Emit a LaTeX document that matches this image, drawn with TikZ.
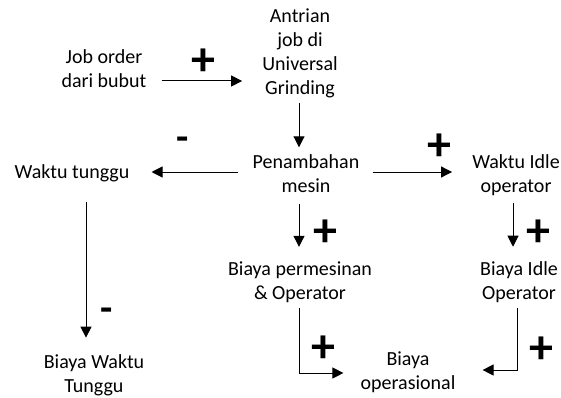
\documentclass[tikz,border=0pt]{standalone}
\usepackage{fontspec}
\setmainfont{Carlito}
\usetikzlibrary{arrows.meta}
\begin{document}
\begin{tikzpicture}[x=1pt,y=-1pt,
  lbl/.style={font=\fontsize{20}{24}\selectfont, align=center, inner sep=0pt},
  sgn/.style={font=\fontsize{48}{48}\selectfont\bfseries, inner sep=0pt},
  msgn/.style={font=\fontsize{40}{40}\selectfont\bfseries, inner sep=0pt},
  arr/.style={line width=1pt, -{Triangle[length=11pt,width=11pt]}}]
\useasboundingbox (0,0) rectangle (561,398);
% nodes
\node[lbl] (job) at (104,69) {Job order\\dari bubut};
\node[lbl] (antrian) at (300,53.5) {Antrian\\job di\\Universal\\Grinding};
\node[lbl] (tambah) at (306,173.5) {Penambahan\\mesin};
\node[lbl] (idle) at (516,175.5) {Waktu Idle\\operator};
\node[lbl] (tunggu) at (72,173.5) {Waktu tunggu};
\node[lbl] (btunggu) at (94,375.5) {Biaya Waktu\\Tunggu};
\node[lbl] (mesin) at (300,282.5) {Biaya permesinan\\\& Operator};
\node[lbl] (bidle) at (519,282.5) {Biaya Idle\\Operator};
\node[lbl] (oper) at (408,372.5) {Biaya\\operasional};
% signs
\node[sgn] (s1) at (203,62.5) {+};
\node[sgn] (s2) at (439,147) {+};
\node[msgn] (s3) at (183,143.5) {-};
\node[msgn] (s4) at (107,314.7) {-};
\node[sgn] (s5) at (325.5,233.5) {+};
\node[sgn] (s6) at (538,233.5) {+};
\node[sgn] (s7) at (323,349) {+};
\node[sgn] (s8) at (541,350) {+};
% connectors
\draw[arr] ([xshift=15pt]job.east |- 0,81) -- ([xshift=-20pt]antrian.west |- 0,81);
\draw[arr] ([yshift=-5pt]antrian.south -| 299,0) -- ([yshift=7pt]tambah.north -| 299,0);
\draw[arr] ([xshift=13pt]tambah.east |- 0,172) -- ([xshift=-20pt]idle.west |- 0,172);
\draw[arr] ([xshift=-14pt]tambah.west |- 0,172) -- ([xshift=22pt]tunggu.east |- 0,172);
\draw[arr] ([yshift=-20pt]tunggu.south -| 86,0) -- ([yshift=17pt]btunggu.north -| 86,0);
\draw[arr] ([yshift=-11pt]tambah.south -| 299,0) -- ([yshift=15pt]mesin.north -| 299,0);
\draw[arr] ([yshift=-7pt]idle.south -| 513,0) -- ([yshift=15pt]bidle.north -| 513,0);
\draw[arr] ([yshift=-5pt]mesin.south -| 299,0) |- ([xshift=-17pt]oper.west |- 0,373);
\draw[arr] ([yshift=-5pt]bidle.south -| 517,0) |- ([xshift=27pt]oper.east |- 0,370);
\end{tikzpicture}
\end{document}
